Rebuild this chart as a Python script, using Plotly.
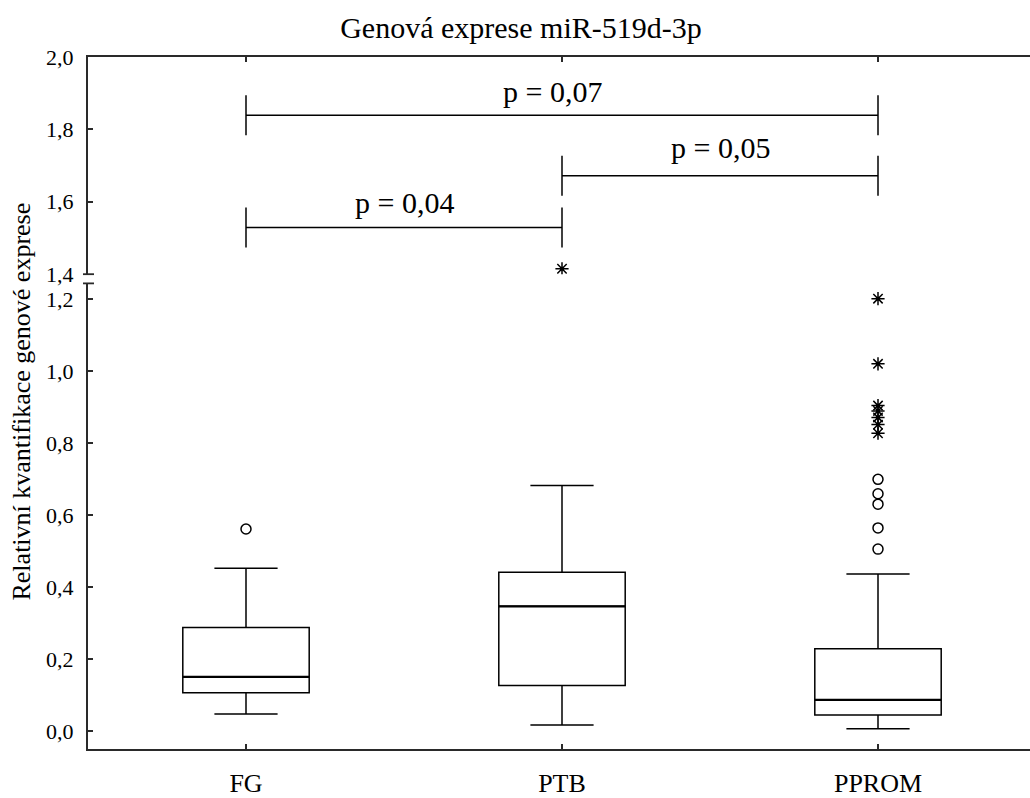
import plotly.graph_objects as go

# ---- data -------------------------------------------------------------
groups = ["FG", "PTB", "PPROM"]
group_pos = [0.5, 1.5, 2.5]

lower_whisker = [0.048, 0.017, 0.007]
q1 = [0.107, 0.127, 0.045]
median = [0.151, 0.347, 0.087]
q3 = [0.288, 0.442, 0.229]
upper_whisker = [0.453, 0.683, 0.437]

# outliers (circles) and extremes (asterisks)
outlier_x = [0.5, 2.5, 2.5, 2.5, 2.5, 2.5]
outlier_y = [0.562, 0.700, 0.660, 0.631, 0.565, 0.506]
extreme_x = [2.5, 2.5, 2.5, 2.5, 2.5, 2.5, 2.5]
extreme_y = [1.202, 1.021, 0.905, 0.890, 0.872, 0.852, 0.828]
# extreme value shown in the upper (broken) segment of the axis
extreme_hi_x = [1.5]
extreme_hi_y = [1.415]

# pairwise comparisons: (group a, group b, bracket level, label level, label x, text)
cmp_a = [0, 1, 0]
cmp_b = [2, 2, 1]
cmp_level = [1.839, 1.672, 1.529]
cmp_label_y = [1.905, 1.750, 1.597]
cmp_label_x = [1.47, 2.0, 1.0]
cmp_text = ["p = 0,07", "p = 0,05", "p = 0,04"]

low_ticks = [0.0, 0.2, 0.4, 0.6, 0.8, 1.0, 1.2]
low_ticktext = ["0,0", "0,2", "0,4", "0,6", "0,8", "1,0", "1,2"]
high_ticks = [1.4, 1.6, 1.8, 2.0]
high_ticktext = ["1,4", "1,6", "1,8", "2,0"]

title_text = "Genová exprese miR-519d-3p"
ytitle_text = "Relativní kvantifikace genové exprese"

# ---- styling ------------------------------------------------------------
FONT = "Liberation Serif, Times New Roman, serif"
INK = "black"
AXIS = "#2a2a2a"
BOX_W = 0.4
CAP_H = 0.055

W, H = 1030, 798
ML, MR, MT, MB = 88, 0, 57, 41
PX_PER_CAT = 316.0
x_max = (W - ML - MR) / PX_PER_CAT

fig = go.Figure()

fig.add_trace(go.Box(
    x=group_pos, q1=q1, median=median, q3=q3,
    lowerfence=lower_whisker, upperfence=upper_whisker,
    width=BOX_W, whiskerwidth=0.5, boxpoints=False,
    fillcolor="white", line=dict(color=INK, width=1.5),
    xaxis="x", yaxis="y", showlegend=False, hoverinfo="skip",
))

# slightly heavier median lines
for xp, m in zip(group_pos, median):
    fig.add_trace(go.Scatter(
        x=[xp - BOX_W / 2, xp + BOX_W / 2], y=[m, m], mode="lines",
        line=dict(color=INK, width=2.4), xaxis="x", yaxis="y",
        showlegend=False, hoverinfo="skip",
    ))

fig.add_trace(go.Scatter(
    x=outlier_x, y=outlier_y, mode="markers",
    marker=dict(symbol="circle-open", size=10, color=INK, line=dict(width=1.5)),
    xaxis="x", yaxis="y", showlegend=False, hoverinfo="skip",
))
fig.add_trace(go.Scatter(
    x=extreme_x, y=extreme_y, mode="markers",
    marker=dict(symbol="asterisk-open", size=11, color=INK, line=dict(width=1.5)),
    xaxis="x", yaxis="y", showlegend=False, hoverinfo="skip",
))
fig.add_trace(go.Scatter(
    x=extreme_hi_x, y=extreme_hi_y, mode="markers",
    marker=dict(symbol="asterisk-open", size=11, color=INK, line=dict(width=1.5)),
    xaxis="x2", yaxis="y2", showlegend=False, hoverinfo="skip",
))

# significance brackets
for a, b, lvl, ly, lx, txt in zip(cmp_a, cmp_b, cmp_level, cmp_label_y, cmp_label_x, cmp_text):
    xa, xb = group_pos[a], group_pos[b]
    fig.add_trace(go.Scatter(
        x=[xa, xa, None, xa, xb, None, xb, xb],
        y=[lvl - CAP_H, lvl + CAP_H, None, lvl, lvl, None, lvl - CAP_H, lvl + CAP_H],
        mode="lines", line=dict(color=INK, width=1.5),
        xaxis="x2", yaxis="y2", showlegend=False, hoverinfo="skip",
    ))
    fig.add_annotation(
        x=lx, y=ly, xref="x2", yref="y2", text=txt, showarrow=False,
        font=dict(family=FONT, size=30, color=INK),
        xanchor="center", yanchor="middle",
    )

# y-axis title
fig.add_annotation(
    x=(22 - ML) / (W - ML - MR), y=(H - MB - 405.5) / (H - MT - MB),
    xref="paper", yref="paper", text=ytitle_text, textangle=-90,
    showarrow=False, font=dict(family=FONT, size=26, color=INK),
    xanchor="center", yanchor="middle",
)

# axis break marks
for yref, yv in (("y domain", 1), ("y2 domain", 0)):
    fig.add_shape(
        type="line", xref="paper", yref=yref,
        xsizemode="pixel", xanchor=0, x0=-5, x1=6, y0=yv, y1=yv,
        line=dict(color=AXIS, width=1.8),
    )

low_top_px = 286.0
high_bot_px = 276.7
plot_h = H - MT - MB
y0_px = 739.0
px_per_unit = 364.0
low_range = [-(H - MB - y0_px) / px_per_unit, -(H - MB - y0_px) / px_per_unit + (H - MB - low_top_px) / px_per_unit]

axis_common = dict(
    showgrid=False, zeroline=False, showline=True, linecolor=AXIS, linewidth=2,
    ticks="inside", ticklen=5, tickwidth=1.5, tickcolor=AXIS,
)

fig.update_layout(
    width=W, height=H,
    margin=dict(l=ML, r=MR, t=MT, b=MB, pad=0),
    paper_bgcolor="white", plot_bgcolor="white",
    font=dict(family=FONT, color=INK),
    title=dict(
        text=title_text, xref="paper", x=(521 - ML) / (W - ML - MR), xanchor="center",
        yref="container", y=1 - 27 / H, yanchor="middle",
        font=dict(family=FONT, size=30, color=INK),
    ),
    xaxis=dict(
        **axis_common, range=[0, x_max], anchor="y",
        tickvals=group_pos, ticktext=groups, ticklabelstandoff=10,
        tickfont=dict(family=FONT, size=26, color=INK),
    ),
    xaxis2=dict(
        **axis_common, range=[0, x_max], anchor="y2", overlaying="x", side="top",
        tickvals=group_pos, showticklabels=False,
    ),
    yaxis=dict(
        **axis_common, domain=[0, (H - MB - low_top_px) / plot_h], range=low_range,
        anchor="x", tickvals=low_ticks, ticktext=low_ticktext, ticklabelstandoff=8,
        tickfont=dict(family=FONT, size=22, color=INK),
    ),
    yaxis2=dict(
        **axis_common, domain=[(H - MB - high_bot_px) / plot_h, 1], range=[1.4, 2.0],
        anchor="x", tickvals=high_ticks, ticktext=high_ticktext, ticklabelstandoff=8,
        tickfont=dict(family=FONT, size=22, color=INK),
    ),
)

fig.write_html("out.html")
